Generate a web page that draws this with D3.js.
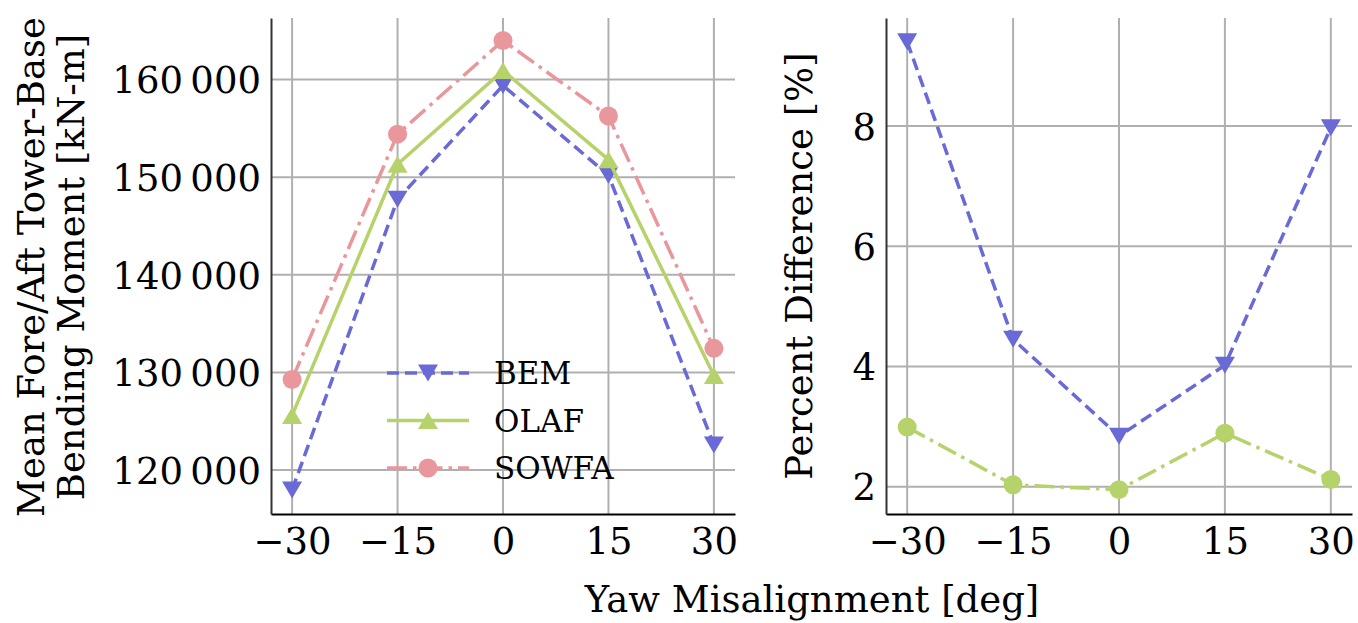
<!DOCTYPE html>
<html><head><meta charset="utf-8">
<script src="https://cdn.jsdelivr.net/npm/d3@7"></script>
<style>
html,body{margin:0;padding:0;background:#fff;}
svg{display:block;}
text{font-family:"DejaVu Serif",serif;fill:#000;}
</style></head>
<body>
<svg id="chart" width="1358" height="623"></svg>
<script>
const yawAngles = [-30, -15, 0, 15, 30];
const xTickValues = [-30, -15, 0, 15, 30];
const bemMoment = [117950, 147740, 159390, 150200, 122560];
const olafMoment = [125590, 151330, 160920, 151790, 129690];
const sowfaMoment = [129280, 154410, 164000, 156260, 132460];
const bemPercent = [9.40, 4.45, 2.84, 4.02, 7.97];
const olafPercent = [2.99, 2.03, 1.95, 2.89, 2.12];
const momentTicks = [120000, 130000, 140000, 150000, 160000];
const percentTicks = [2, 4, 6, 8];
const seriesNames = ["BEM", "OLAF", "SOWFA"];

const colors = {BEM: "#6a6ad6", OLAF: "#b6d26a", SOWFA: "#e9969c"};
const svg = d3.select("#chart");
const plotTop = 18, plotBottom = 514;

function fmtMinus(v){ return String(v).replace("-", "\u2212"); }
function fmtMoment(v){ return d3.format(",")(v).replace(",", "\u2009"); }

const triPath = "M-10,-8.5L10,-8.5L0,8.5Z";
const lineW = 3.5;

function panel(opts){
  const x = d3.scaleLinear().domain([-33, 33]).range([opts.x0, opts.x1]);
  const y = d3.scaleLinear().domain(opts.ydom).range([plotBottom, plotTop]);
  const g = svg.append("g");
  g.append("g").selectAll("line").data(xTickValues).join("line")
    .attr("x1", d => x(d)).attr("x2", d => x(d)).attr("y1", plotTop).attr("y2", plotBottom)
    .attr("stroke", "#b0b0b0").attr("stroke-width", 2);
  g.append("g").selectAll("line").data(opts.yticks).join("line")
    .attr("x1", opts.x0).attr("x2", opts.x1).attr("y1", d => y(d)).attr("y2", d => y(d))
    .attr("stroke", "#b0b0b0").attr("stroke-width", 2);
  const xa = g.append("g").attr("transform", `translate(0,${plotBottom})`)
    .call(d3.axisBottom(x).tickValues(xTickValues).tickSize(0).tickPadding(12).tickFormat(fmtMinus));
  xa.select(".domain").attr("stroke", "#000").attr("stroke-width", 2);
  xa.selectAll("text").attr("font-size", 37).attr("font-family", "DejaVu Serif").attr("dy", "0.75em");
  const ya = g.append("g").attr("transform", `translate(${opts.x0},0)`)
    .call(d3.axisLeft(y).tickValues(opts.yticks).tickSize(0).tickPadding(10).tickFormat(opts.fmt));
  ya.select(".domain").attr("stroke", "#333").attr("stroke-width", 2);
  ya.selectAll("text").attr("font-size", 37).attr("font-family", "DejaVu Serif").attr("dy", "0.36em");
  opts.series.forEach(s => {
    const pts = yawAngles.map((a, i) => [x(a), y(s.values[i])]);
    g.append("path").attr("d", d3.line()(pts)).attr("fill", "none")
      .attr("stroke", s.color).attr("stroke-width", lineW)
      .attr("stroke-dasharray", s.dash);
    const m = g.append("g").selectAll("g").data(pts).join("g")
      .attr("transform", d => `translate(${d[0]},${d[1]})`);
    if (s.marker === "circle") m.append("circle").attr("r", 9.5).attr("fill", s.color);
    else if (s.marker === "up") m.append("path").attr("d", triPath).attr("transform", "rotate(180)").attr("fill", s.color);
    else m.append("path").attr("d", triPath).attr("fill", s.color);
  });
  return {x, y, g};
}

const dashBEM = "12,6";
const dashDot = "20,6,3.5,6";

panel({
  x0: 271, x1: 735, ydom: [115490, 166310], yticks: momentTicks, fmt: fmtMoment,
  series: [
    {values: bemMoment, color: colors.BEM, dash: dashBEM, marker: "down"},
    {values: olafMoment, color: colors.OLAF, dash: null, marker: "up"},
    {values: sowfaMoment, color: colors.SOWFA, dash: dashDot, marker: "circle"}
  ]
});
panel({
  x0: 886, x1: 1352, ydom: [1.545, 9.795], yticks: percentTicks, fmt: d => String(d),
  series: [
    {values: bemPercent, color: colors.BEM, dash: dashBEM, marker: "down"},
    {values: olafPercent, color: colors.OLAF, dash: dashDot, marker: "circle"}
  ]
});

svg.append("text").attr("transform", "translate(44,267) rotate(-90)")
  .attr("text-anchor", "middle").attr("font-size", 37).text("Mean Fore/Aft Tower-Base");
svg.append("text").attr("transform", "translate(84,267) rotate(-90)")
  .attr("text-anchor", "middle").attr("font-size", 37).text("Bending Moment [kN-m]");
svg.append("text").attr("transform", "translate(812,266) rotate(-90)")
  .attr("text-anchor", "middle").attr("font-size", 37).text("Percent Difference [%]");
svg.append("text").attr("x", 812).attr("y", 612)
  .attr("text-anchor", "middle").attr("font-size", 37).text("Yaw Misalignment [deg]");

const legendStyles = [
  {name: seriesNames[0], color: colors.BEM, dash: dashBEM, marker: "down"},
  {name: seriesNames[1], color: colors.OLAF, dash: null, marker: "up"},
  {name: seriesNames[2], color: colors.SOWFA, dash: dashDot, marker: "circle"}
];
const lg = svg.append("g");
legendStyles.forEach((s, i) => {
  const cy = 373 + i * 47.5;
  lg.append("line").attr("x1", 387).attr("x2", 469).attr("y1", cy).attr("y2", cy)
    .attr("stroke", s.color).attr("stroke-width", lineW).attr("stroke-dasharray", s.dash);
  const mg = lg.append("g").attr("transform", `translate(428,${cy})`);
  if (s.marker === "circle") mg.append("circle").attr("r", 9.5).attr("fill", s.color);
  else if (s.marker === "up") mg.append("path").attr("d", triPath).attr("transform", "rotate(180)").attr("fill", s.color);
  else mg.append("path").attr("d", triPath).attr("fill", s.color);
  lg.append("text").attr("x", 494).attr("y", cy).attr("dy", "0.36em")
    .attr("font-size", 31).text(s.name);
});
</script>
</body></html>
